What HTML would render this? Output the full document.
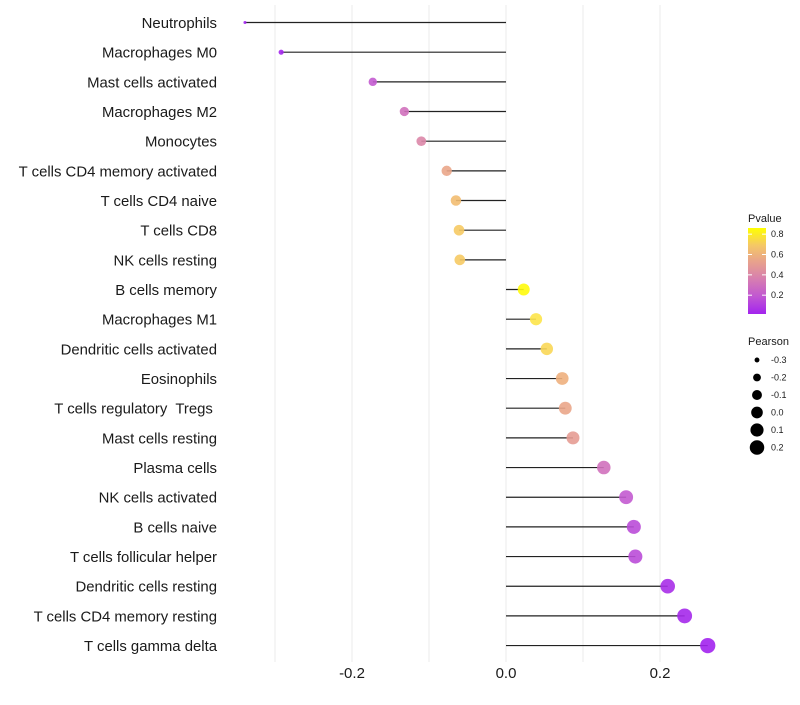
<!DOCTYPE html>
<html><head><meta charset="utf-8"><style>
body{margin:0;background:#fff;font-family:"Liberation Sans",sans-serif}
svg text{font-family:"Liberation Sans",sans-serif;white-space:pre}
</style></head><body>
<svg id="chart" width="800" height="700" xmlns="http://www.w3.org/2000/svg">
<g id="grid"></g>
<g id="marks"></g>
<g id="ylab"></g>
<g id="xlab"></g>
<g id="legend"></g>
</svg>
<script>
const categories=["Neutrophils","Macrophages M0","Mast cells activated","Macrophages M2","Monocytes","T cells CD4 memory activated","T cells CD4 naive","T cells CD8","NK cells resting","B cells memory","Macrophages M1","Dendritic cells activated","Eosinophils","T cells regulatory  Tregs ","Mast cells resting","Plasma cells","NK cells activated","B cells naive","T cells follicular helper","Dendritic cells resting","T cells CD4 memory resting","T cells gamma delta"];
const pearson=[-0.339,-0.292,-0.173,-0.132,-0.110,-0.077,-0.065,-0.061,-0.060,0.023,0.039,0.053,0.073,0.077,0.087,0.127,0.156,0.166,0.168,0.210,0.232,0.262];
const pvalues=[0.01,0.02,0.2,0.3,0.4,0.55,0.65,0.7,0.7,0.85,0.8,0.75,0.6,0.55,0.5,0.3,0.2,0.15,0.15,0.05,0.03,0.01];
const xTicks=[-0.2,0.0,0.2];
const xTickLabels=["-0.2","0.0","0.2"];
const gridVals=[-0.3,-0.2,-0.1,0,0.1,0.2];
const pTicks=[0.2,0.4,0.6,0.8];
const sizeTicks=[-0.3,-0.2,-0.1,0.0,0.1,0.2];
const NS="http://www.w3.org/2000/svg";
const x=v=>506+v*770;
const y=i=>22.5+i*29.67;
const r=v=>Math.sqrt(Math.max(0,2.25+(v+0.34)*93));
const stops=[[0,[160,32,240]],[0.2,[195,91,208]],[0.4,[220,135,168]],[0.6,[238,176,126]],[0.8,[253,228,74]],[0.86,[255,255,0]]];
function col(p){for(let k=1;k<stops.length;k++){if(p<=stops[k][0]||k==stops.length-1){const a=stops[k-1],b=stops[k];let t=(p-a[0])/(b[0]-a[0]);t=Math.max(0,Math.min(1,t));return "rgb("+a[1].map((c,j)=>Math.round(c+(b[1][j]-c)*t)).join(",")+")";}}}
function mk(tag,at,parent){const e=document.createElementNS(NS,tag);for(const k in at)e.setAttribute(k,at[k]);parent.appendChild(e);return e;}
const grid=document.getElementById('grid');
gridVals.forEach(g=>{const l=mk('line',{x1:x(g),x2:x(g),y1:5,y2:662,stroke:'#ebebeb','stroke-width':1},grid);

});
const marks=document.getElementById('marks'),yl=document.getElementById('ylab');
categories.forEach((c,i)=>{
const l=mk('line',{x1:x(0),x2:x(pearson[i]),y1:y(i),y2:y(i),stroke:'#222','stroke-width':1.2},marks);


const d=mk('circle',{cx:x(pearson[i]),cy:y(i),r:r(pearson[i]),fill:col(pvalues[i]),'fill-opacity':0.9},marks);


const t=mk('text',{x:217,y:y(i)+5.5,'text-anchor':'end','font-size':14.9,fill:'#1a1a1a'},yl);t.textContent=c;

});
const xl=document.getElementById('xlab');
xTicks.forEach((v,i)=>{const t=mk('text',{x:x(v),y:678,'text-anchor':'middle','font-size':15,fill:'#1a1a1a'},xl);t.textContent=xTickLabels[i];

});
const lg=document.getElementById('legend');
let t=mk('text',{x:748,y:222,'font-size':11,fill:'#1a1a1a'},lg);t.textContent='Pvalue';
const defs=mk('defs',{},lg);const gr=mk('linearGradient',{id:'pg',x1:0,y1:1,x2:0,y2:0},defs);
[0,0.2,0.4,0.6,0.8,1].forEach(f=>{mk('stop',{offset:f,'stop-color':col(0.015+f*0.845)},gr);});
const bar=mk('rect',{x:748,y:228,width:18,height:86,fill:'url(#pg)'},lg);


pTicks.forEach(p=>{const yy=314-(p-0.015)*101.7;mk('line',{x1:748,x2:752,y1:yy,y2:yy,stroke:'#fff'},lg);mk('line',{x1:762,x2:766,y1:yy,y2:yy,stroke:'#fff'},lg);
const tt=mk('text',{x:771,y:yy+3,'font-size':9,fill:'#1a1a1a'},lg);tt.textContent=p.toFixed(1);});
t=mk('text',{x:748,y:345,'font-size':11,fill:'#1a1a1a'},lg);t.textContent='Pearson';
sizeTicks.forEach((v,i)=>{const yy=360+i*17.5;const c=mk('circle',{cx:757,cy:yy,r:r(v),fill:'#000'},lg);


const tt=mk('text',{x:771,y:yy+3,'font-size':9,fill:'#1a1a1a'},lg);tt.textContent=v.toFixed(1);});
</script>
</body></html>
